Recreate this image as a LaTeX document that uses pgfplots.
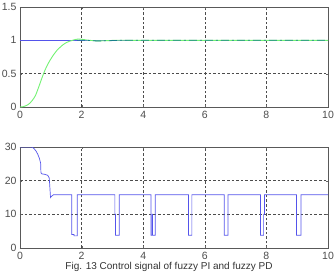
\documentclass[border=0pt]{standalone}
\usepackage{pgfplots}
\pgfplotsset{compat=1.18}
\usepackage{fontspec}
\setmainfont{Liberation Sans}
\definecolor{mblue}{rgb}{0.33,0.33,0.92}
\definecolor{mgreen}{rgb}{0.45,0.95,0.45}
\definecolor{mteal}{rgb}{0.1,0.5,0.55}
\pgfplotsset{
  myax/.style={
    scale only axis, width=308pt,
    xmin=0, xmax=10, xtick={0,2,...,10},
    axis line style={black!65, line width=0.8pt},
    grid=major,
    major grid style={black!70, dash pattern=on 2.6pt off 2pt, line width=0.5pt},
    tick style={black!60},
    major tick length=2pt,
    tick align=inside,
    ticklabel style={font=\fontsize{10.5}{12}\selectfont, text=black!70},
    /pgf/number format/assume math mode=true,
    xticklabel style={yshift=-0.5pt},
    clip=true,
  }
}
\begin{document}
\begin{tikzpicture}
\useasboundingbox (0,0) rectangle (336pt,-271pt);
\begin{axis}[myax, height=100pt, at={(20pt,-107pt)}, anchor=south west,
  ymin=0, ymax=1.5, ytick={0,0.5,1,1.5}, yticklabels={0,0.5,1,1.5}]
\addplot[mblue, line width=0.7pt] coordinates {(0,1) (10,1)};
\addplot[mgreen, line width=0.9pt, smooth, tension=0.4] coordinates {
(0,0) (0.1,0.005) (0.2,0.02) (0.3,0.05) (0.4,0.1) (0.5,0.17) (0.6,0.29)
(0.7,0.42) (0.8,0.54) (0.9,0.64) (1.0,0.72) (1.1,0.79) (1.2,0.85) (1.3,0.895)
(1.4,0.935) (1.5,0.965) (1.6,0.985) (1.7,1.0) (1.8,1.013) (1.9,1.02) (2.0,1.016)
(2.2,1.003) (2.5,0.992) (2.8,0.995) (3.2,1.002) (3.6,1.0) (4.5,1.0) (6,1.0) (8,1.0) (10,1.0)};
\addplot[mteal, line width=0.8pt, dash pattern=on 8pt off 3pt on 2pt off 3pt] coordinates {
(1.85,1.0) (2.2,1.0) (2.5,0.99) (2.8,0.993) (3.2,1.0) (10,1.0)};
\end{axis}
\begin{axis}[myax, height=101pt, at={(20pt,-248pt)}, anchor=south west,
  ymin=0, ymax=30, ytick={0,10,20,30}]
\addplot[mblue, line width=0.7pt] coordinates {
(0,30) (0.38,30) (0.45,29.6) (0.52,28.8) (0.58,27.8) (0.63,26.6) (0.67,25.2)
(0.68,22.3) (0.72,22) (0.8,21.9) (0.9,21.6) (0.95,20.8) (0.97,18) (0.99,15)
(1.03,15.4) (1.08,15.8) (1.68,15.8) (1.68,4) (1.75,4) (1.75,3.6) (1.86,3.6) (1.86,15.8)
(3.08,15.8) (3.08,10) (3.1,10) (3.1,3.8) (3.22,3.8) (3.22,15.8)
(4.25,15.8) (4.25,3.8) (4.29,3.8) (4.29,10) (4.3,10) (4.3,3.8) (4.39,3.8) (4.39,15.8)
(5.47,15.8) (5.47,3.8) (5.58,3.8) (5.58,15.8)
(6.63,15.8) (6.63,3.8) (6.75,3.8) (6.75,15.8)
(7.81,15.8) (7.81,3.8) (7.91,3.8) (7.91,10) (7.94,10) (7.94,15.8)
(8.98,15.8) (8.98,3.8) (9.12,3.8) (9.12,15.8) (10,15.8)};
\end{axis}
\node[anchor=north, inner sep=0pt, font=\fontsize{10}{12}\selectfont, text=black!80] at (169pt,-262.5pt) {Fig. 13 Control signal of fuzzy PI and fuzzy PD};
\end{tikzpicture}
\end{document}
